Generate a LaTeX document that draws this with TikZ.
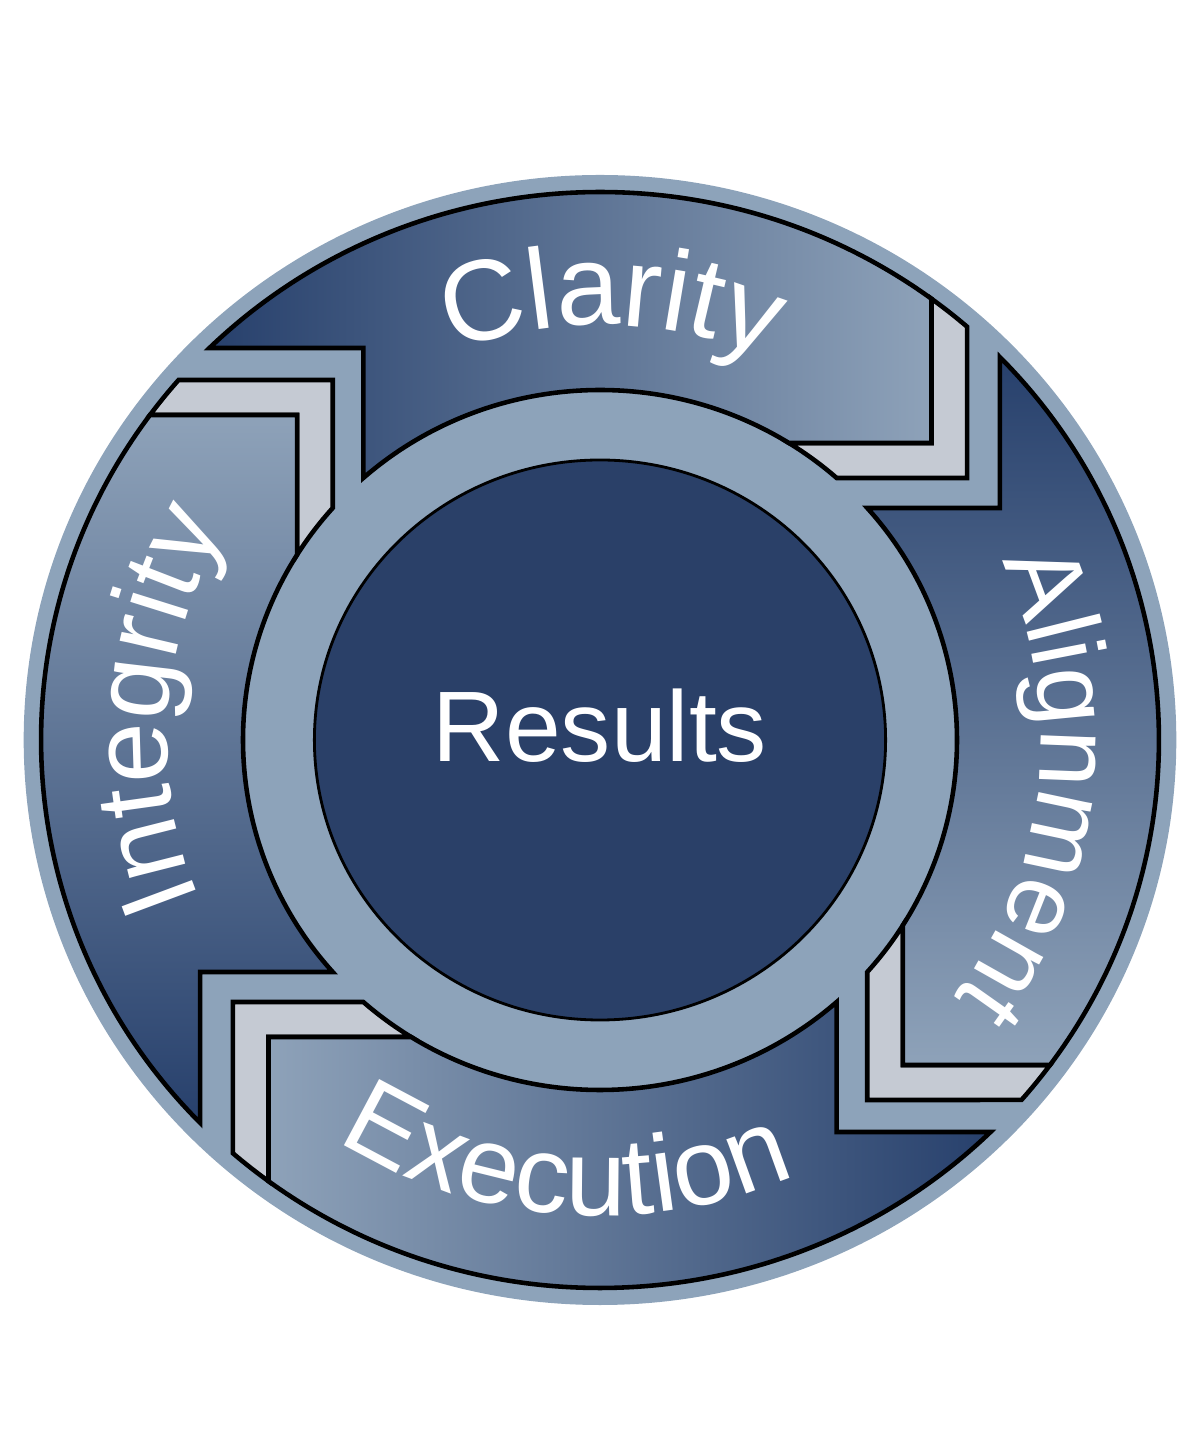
\documentclass[tikz,border=0pt]{standalone}
\usepackage{fontspec}
\newfontfamily\wheelfont{Liberation Sans}
\usetikzlibrary{decorations.text}

\definecolor{ringlight}{HTML}{8DA3BA}
\definecolor{chevgray}{HTML}{C5CAD3}
\definecolor{navydark}{HTML}{27406C}
\definecolor{navylight}{HTML}{8EA2B9}
\definecolor{hubnavy}{HTML}{2A4068}

\begin{document}
\begin{tikzpicture}[x=0.01cm, y=0.01cm,
        arrowseg/.style={draw=black, line width=1.3pt, left color=navydark,
            middle color=navydark!62!navylight, right color=navylight},
        chevron/.style={draw=black, line width=1.3pt, fill=chevgray},
        hub/.style={draw=black, line width=0.8pt, fill=hubnavy},
        arclabel/.style 2 args={decorate, decoration={text along path, text align=center, text color=white,
            text={|\wheelfont\fontsize{#2}{#2}\selectfont|#1}}}
    ]
    \useasboundingbox (-600,-700) rectangle (600,740);

    \begin{scope}[xscale=1.02]
        % light outer disk
        \fill[ringlight] (0,0) circle[radius=565];

        % four arrows, each followed by a chevron
        \foreach \k/\shang in {0/90, 1/0, 2/-90, 3/-180}{
            \begin{scope}[rotate=-90*\k]
                \draw[chevron] (53.62:548) -- (325,297) -- (58.06:350)
                    arc[start angle=58.06, end angle=48.47, radius=350] -- (360,262) -- (48.94:548)
                    arc[start angle=48.94, end angle=53.62, radius=548] -- cycle;
                \draw[arrowseg, shading angle=\shang] (134.33:548)
                    arc[start angle=134.33, end angle=53.62, radius=548] -- (325,297) -- (58.06:350)
                    arc[start angle=58.06, end angle=131.52, radius=350] -- (-232,392) -- cycle;
            \end{scope}
        }

        % centre disk
        \draw[hub] (0,0) circle[radius=280];

        % labels along the ring
        \path[arclabel={Clarity}{32.5}] (128.5:415) arc[start angle=128.5, end angle=48.5, radius=415];
        \path[arclabel={Alignment}{29.5}] (34:432) arc[start angle=34, end angle=-46, radius=432];
        \path[arclabel={Execution}{31}] (-134.5:476) arc[start angle=-134.5, end angle=-54.5, radius=476];
        \path[arclabel={Integrity}{31}] (216:424) arc[start angle=216, end angle=136, radius=424];
    \end{scope}

    \node[text=white, font=\wheelfont\fontsize{28.5}{28.5}\selectfont] (results) at (0,14) {Results};
\end{tikzpicture}
\end{document}
